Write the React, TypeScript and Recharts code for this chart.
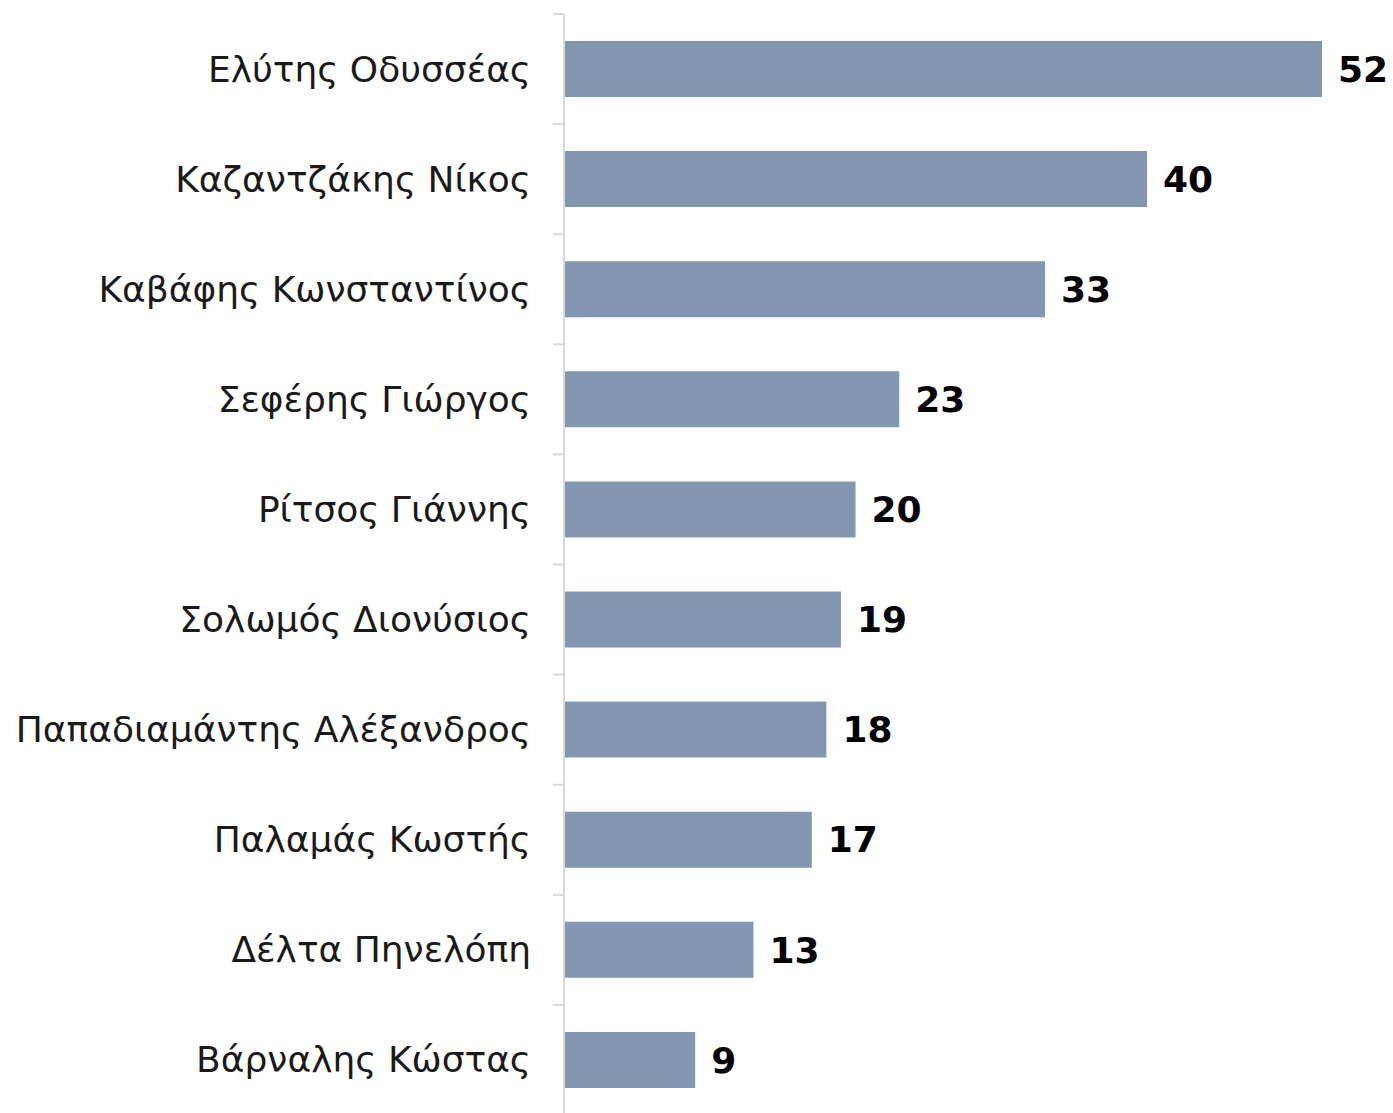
import React from "react";
import { BarChart, Bar, XAxis, YAxis, LabelList } from "recharts";

const authors = [
	"Ελύτης Οδυσσέας",
	"Καζαντζάκης Νίκος",
	"Καβάφης Κωνσταντίνος",
	"Σεφέρης Γιώργος",
	"Ρίτσος Γιάννης",
	"Σολωμός Διονύσιος",
	"Παπαδιαμάντης Αλέξανδρος",
	"Παλαμάς Κωστής",
	"Δέλτα Πηνελόπη",
	"Βάρναλης Κώστας"
];

const counts = [52, 40, 33, 23, 20, 19, 18, 17, 13, 9];

const data = authors.map((name, i) => ({ name, value: counts[i] }));

const WIDTH = 1393;
const HEIGHT = 1120;
const MARGIN = { top: 14, right: 71, left: 0, bottom: 5 };
const BAND = (HEIGHT - MARGIN.top - MARGIN.bottom) / authors.length;
const GRID = "#d9d9d9";

// tick lines sit on the category boundaries, not the centres
const CategoryTick = (props: any) => {
	const { x, y, payload, index } = props;
	const last = index === authors.length - 1;
	return (
		<g>
			<line x1={x + 22} x2={x + 33} y1={y - BAND / 2} y2={y - BAND / 2} stroke={GRID} strokeWidth={2} />
			{last && <line x1={x + 22} x2={x + 33} y1={y + BAND / 2} y2={y + BAND / 2} stroke={GRID} strokeWidth={2} />}
			<text
				x={x}
				y={y}
				textAnchor="end"
				dominantBaseline="central"
				fontFamily="'DejaVu Sans', sans-serif"
				fontSize={36}
				fill="#1a1a1a"
			>
				{payload.value}
			</text>
		</g>
	);
};

const App = () => {
	return (
		<div style={{ position: "fixed", left: 0, top: 0, width: WIDTH, height: 1113, overflow: "hidden", background: "#fff" }}>
			<BarChart width={WIDTH} height={HEIGHT} data={data} layout="vertical" margin={MARGIN}>
				<XAxis type="number" domain={[0, 52]} hide />
				<YAxis
					type="category"
					dataKey="name"
					width={564}
					axisLine={{ stroke: GRID, strokeWidth: 2 }}
					tickLine={false}
					tickSize={11}
					tickMargin={22}
					tick={<CategoryTick />}
					interval={0}
				/>
				<Bar dataKey="value" fill="#8497b0" barSize={56} isAnimationActive={false}>
					<LabelList
						dataKey="value"
						position="right"
						offset={16}
						style={{ fontFamily: "'DejaVu Sans', sans-serif", fontWeight: "bold", fontSize: 36, fill: "#000" }}
					/>
				</Bar>
			</BarChart>
		</div>
	);
};

export default App;
